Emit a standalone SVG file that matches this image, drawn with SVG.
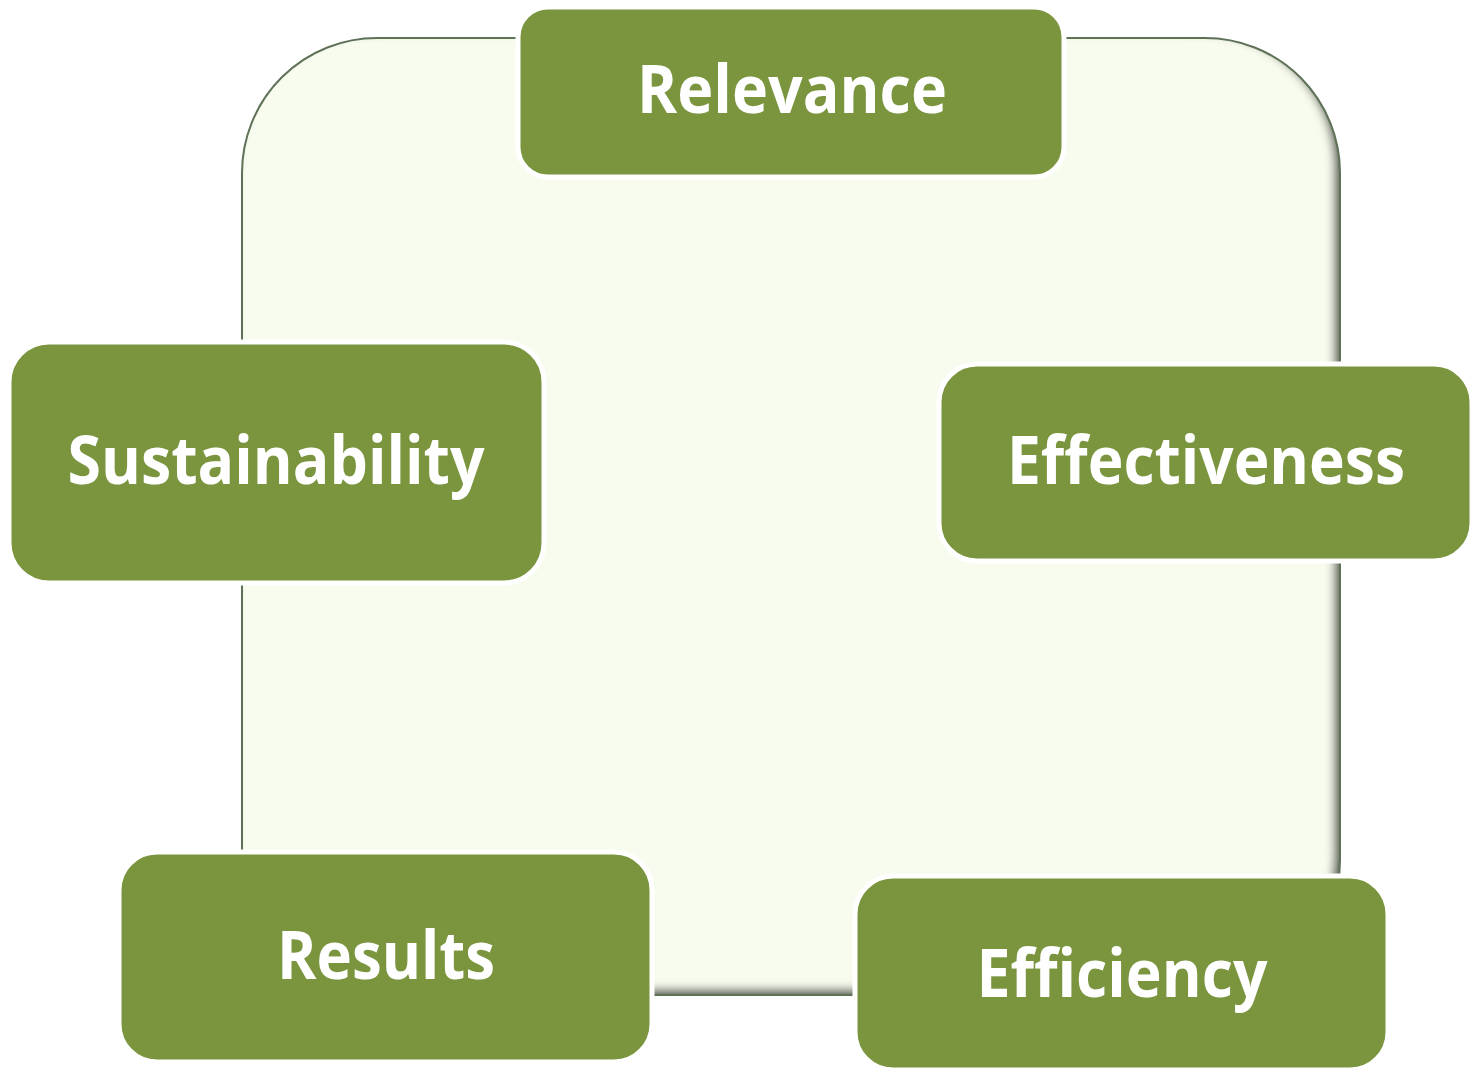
<svg xmlns="http://www.w3.org/2000/svg" width="1475" height="1070" viewBox="0 0 1475 1070">
  <style>
    .box { fill: #7A953E; stroke: #FFFFFF; stroke-width: 5; }
    .lbl { font-family: "Open Sans", "Liberation Sans", sans-serif; font-weight: bold; font-size: 66px; fill: #FFFFFF; text-anchor: middle; }
  </style>
  <defs>
    <filter id="inset" x="-5%" y="-5%" width="110%" height="110%">
      <feComponentTransfer in="SourceAlpha" result="inv">
        <feFuncA type="table" tableValues="1 0"/>
      </feComponentTransfer>
      <feGaussianBlur in="inv" stdDeviation="5" result="blur"/>
      <feOffset in="blur" dx="-6" dy="-6" result="off"/>
      <feFlood flood-color="#2F3A2A" flood-opacity="0.95"/>
      <feComposite in2="off" operator="in" result="shadow"/>
      <feComposite in="shadow" in2="SourceAlpha" operator="in" result="inner"/>
      <feMerge>
        <feMergeNode in="SourceGraphic"/>
        <feMergeNode in="inner"/>
      </feMerge>
    </filter>
  </defs>
  <rect width="1475" height="1070" fill="#FFFFFF"/>
  <g id="connectors">
    <rect x="242" y="38" width="1098" height="957" rx="135" ry="135" fill="#F8FCEE" filter="url(#inset)"/>
    <rect x="242" y="38" width="1098" height="957" rx="135" ry="135" fill="none" stroke="#5F7258" stroke-width="2"/>
  </g>
  <g id="relevance">
    <rect class="box" x="518" y="7" width="546" height="170" rx="30"/>
    <text class="lbl" x="792" y="113" textLength="310" lengthAdjust="spacingAndGlyphs">Relevance</text>
  </g>
  <g id="sustainability">
    <rect class="box" x="9" y="342" width="535" height="241" rx="40"/>
    <text class="lbl" x="276" y="484" textLength="417" lengthAdjust="spacingAndGlyphs">Sustainability</text>
  </g>
  <g id="effectiveness">
    <rect class="box" x="939" y="364" width="533" height="197" rx="38"/>
    <text class="lbl" x="1206" y="484" textLength="398" lengthAdjust="spacingAndGlyphs">Effectiveness</text>
  </g>
  <g id="results">
    <rect class="box" x="119" y="852" width="533" height="210" rx="38"/>
    <text class="lbl" x="386" y="979" textLength="218" lengthAdjust="spacingAndGlyphs">Results</text>
  </g>
  <g id="efficiency">
    <rect class="box" x="855" y="876" width="533" height="194" rx="38"/>
    <text class="lbl" x="1122" y="997" textLength="291" lengthAdjust="spacingAndGlyphs">Efficiency</text>
  </g>
</svg>
